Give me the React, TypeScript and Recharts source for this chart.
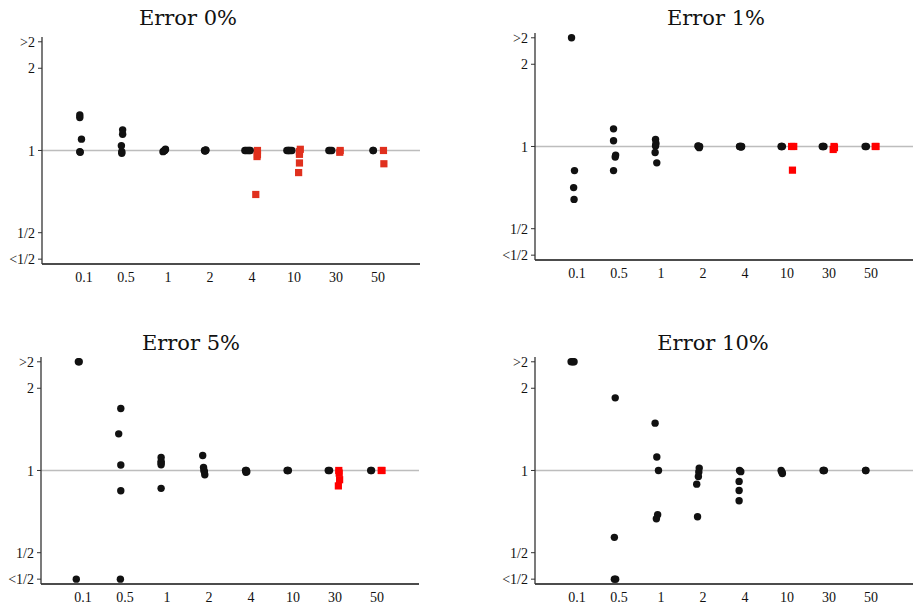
import { ScatterChart, Scatter, XAxis, YAxis, ReferenceLine } from 'recharts';

type Pt = [number, number]; // [category position (jittered), ratio]

const categories = ['0.1', '0.5', '1', '2', '4', '10', '30', '50'];
const yTicks = [0.4, 0.5, 1, 2, 2.5];
const yTickLabels = ['<1/2', '1/2', '1', '2', '>2'];
const titles = ['Error 0%', 'Error 1%', 'Error 5%', 'Error 10%'];

// Error 0%
const black0: Pt[] = [
  [0.90, 1.35], [0.90, 1.32], [0.94, 1.10], [0.90, 0.99], [0.91, 0.985],
  [1.92, 1.19], [1.92, 1.147], [1.89, 1.04], [1.90, 0.99], [1.90, 0.977],
  [2.94, 1.01], [2.92, 1.0], [2.88, 0.99], [2.90, 0.995], [2.93, 1.005],
  [3.87, 1.0], [3.90, 1.005], [3.89, 1.0], [3.88, 0.995], [3.90, 1.0],
  [4.83, 1.0], [4.96, 1.0], [4.90, 1.0], [4.86, 1.0], [4.93, 1.0],
  [5.83, 1.0], [5.95, 1.0], [5.88, 1.0], [5.91, 1.0], [5.86, 1.0],
  [6.83, 1.0], [6.90, 1.0], [6.86, 1.0],
  [7.89, 1.0], [7.88, 1.0],
];
const red0: Pt[] = [
  [5.13, 1.0], [5.13, 0.965], [5.12, 0.95], [5.09, 0.69],
  [6.15, 1.01], [6.13, 0.99], [6.13, 0.968], [6.13, 0.90], [6.11, 0.83],
  [7.10, 1.0], [7.09, 0.985],
  [8.13, 1.0], [8.14, 0.894],
];

// Error 1%
const black1: Pt[] = [
  [0.87, 2.5], [0.94, 0.816], [0.92, 0.707], [0.93, 0.64],
  [1.87, 1.16], [1.87, 1.05], [1.92, 0.93], [1.91, 0.915], [1.87, 0.816],
  [2.87, 1.061], [2.88, 1.025], [2.87, 1.005], [2.86, 0.951], [2.90, 0.871],
  [3.90, 1.0], [3.91, 0.99], [3.88, 1.005], [3.89, 1.0], [3.92, 1.0],
  [4.88, 1.0], [4.91, 0.995], [4.90, 1.0], [4.87, 1.0], [4.92, 1.0],
  [5.86, 1.0], [5.89, 1.0], [5.87, 1.0],
  [6.84, 1.0], [6.88, 1.0], [6.86, 1.0],
  [7.86, 1.0], [7.89, 1.0],
];
const red1: Pt[] = [
  [6.11, 1.0], [6.16, 1.0], [6.13, 0.819],
  [7.12, 1.0], [7.10, 0.975], [7.13, 0.99],
  [8.10, 1.0], [8.12, 1.0],
];

// Error 5%
const black5: Pt[] = [
  [0.89, 2.5], [0.91, 2.5], [0.84, 0.4],
  [1.90, 1.686], [1.85, 1.362], [1.90, 1.047], [1.90, 0.843], [1.89, 0.4],
  [2.86, 1.115], [2.86, 1.08], [2.86, 1.064], [2.86, 1.05], [2.86, 0.86],
  [3.85, 1.135], [3.87, 1.025], [3.89, 0.99], [3.90, 0.965], [3.88, 1.0],
  [4.87, 1.0], [4.90, 0.99], [4.88, 0.985], [4.89, 1.0],
  [5.86, 1.0], [5.89, 1.0], [5.87, 1.0],
  [6.84, 1.0], [6.87, 1.0],
  [7.85, 1.0], [7.87, 1.0],
];
const red5: Pt[] = [
  [7.09, 1.0], [7.10, 0.978], [7.11, 0.925], [7.08, 0.878],
  [8.10, 1.0], [8.12, 1.0],
];

// Error 10%
const black10: Pt[] = [
  [0.86, 2.5], [0.90, 2.5], [0.93, 2.5],
  [1.91, 1.845], [1.89, 0.569], [1.89, 0.4], [1.92, 0.4],
  [2.86, 1.49], [2.90, 1.12], [2.94, 1.0], [2.92, 0.689], [2.89, 0.666],
  [3.91, 1.02], [3.90, 0.987], [3.89, 0.951], [3.85, 0.891], [3.87, 0.677],
  [4.87, 1.0], [4.90, 0.99], [4.86, 0.912], [4.86, 0.845], [4.86, 0.775],
  [5.86, 1.0], [5.88, 0.985], [5.89, 0.975],
  [6.86, 1.0], [6.89, 1.0], [6.87, 1.0],
  [7.87, 1.0], [7.88, 1.0],
];

const SERIF = '"Liberation Serif", "Times New Roman", serif';
const Y_W = 42;
const PLOT_W = 378;
const PLOT_H = 227;
const M_TOP = 4;
const X_H = 30;

const toRows = (pts: Pt[]) => pts.map(([x, y]) => ({ x, y }));

const Dot = (p: any) => <circle cx={p.cx} cy={p.cy} r={3.7} fill="#111" />;
const squareOf = (color: string) => (p: any) => (
  <rect x={p.cx - 3.6} y={p.cy - 3.6} width={7.2} height={7.2} fill={color} />
);

const XTick = (p: any) => (
  <text x={p.x} y={p.y} dy="0.71em" textAnchor="middle" fontFamily={SERIF} fontSize={14} fill="#111">
    {categories[p.payload.value - 1]}
  </text>
);
const YTick = (p: any) => (
  <text x={p.x} y={p.y} dy="0.36em" textAnchor="end" fontFamily={SERIF} fontSize={14} fill="#111">
    {yTickLabels[yTicks.indexOf(p.payload.value)]}
  </text>
);

function Panel({ left, top, black, red, redColor }: {
  left: number; top: number; black: Pt[]; red?: Pt[]; redColor?: string;
}) {
  return (
    <div style={{ position: 'absolute', left: left - Y_W, top: top - M_TOP }}>
      <ScatterChart
        width={Y_W + PLOT_W + 4}
        height={M_TOP + PLOT_H + X_H}
        margin={{ top: M_TOP, right: 4, left: 0, bottom: 0 }}
      >
        <XAxis
          type="number"
          dataKey="x"
          domain={[0, 9]}
          ticks={[1, 2, 3, 4, 5, 6, 7, 8]}
          interval={0}
          tickLine={false}
          axisLine={{ stroke: '#111', strokeWidth: 1.3 }}
          height={X_H}
          tick={XTick}
          allowDataOverflow
        />
        <YAxis
          type="number"
          dataKey="y"
          scale="log"
          domain={[0.384, 2.603]}
          ticks={yTicks}
          interval={0}
          width={Y_W}
          tickSize={4}
          tickMargin={3}
          tickLine={{ stroke: '#333' }}
          axisLine={{ stroke: '#333', strokeWidth: 1.3 }}
          tick={YTick}
          allowDataOverflow
        />
        <ReferenceLine y={1} stroke="#bdbdbd" strokeWidth={1.5} />
        <Scatter data={toRows(black)} shape={Dot} isAnimationActive={false} />
        {red && (
          <Scatter data={toRows(red)} shape={squareOf(redColor || '#f00')} isAnimationActive={false} />
        )}
      </ScatterChart>
    </div>
  );
}

export default function App() {
  return (
    <div style={{ position: 'absolute', left: 0, top: 0, width: 913, height: 606, overflow: 'hidden', background: '#fff' }}>
      <Panel left={42} top={37} black={black0} red={red0} redColor="#e0301e" />
      <Panel left={535} top={33} black={black1} red={red1} redColor="#ff0000" />
      <Panel left={41} top={357} black={black5} red={red5} redColor="#ff0000" />
      <Panel left={535} top={357} black={black10} />
      <svg width={913} height={606} style={{ position: 'absolute', left: 0, top: 0, pointerEvents: 'none' }}>
        {[[188, 25], [716, 25], [191, 350], [713, 350]].map(([cx, by], i) => (
          <text key={i} x={cx} y={by} textAnchor="middle" fontFamily='"DejaVu Serif", serif' fontSize={21} fill="#111">
            {titles[i]}
          </text>
        ))}
      </svg>
    </div>
  );
}
